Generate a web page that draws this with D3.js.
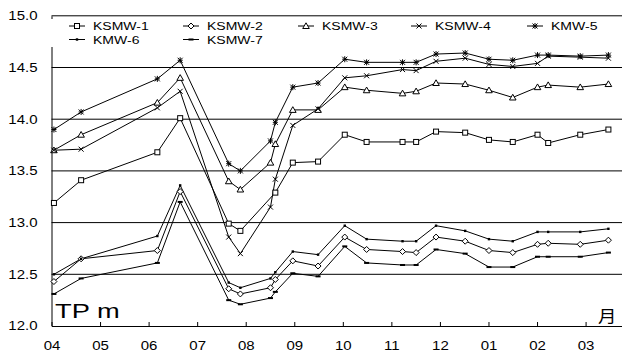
<!DOCTYPE html>
<html><head><meta charset="utf-8">
<script src="https://cdn.jsdelivr.net/npm/d3@7"></script>
<style>
html,body{margin:0;padding:0;background:#fff;}
svg{display:block;font-family:"Liberation Sans",Arial,sans-serif;}
</style></head>
<body>
<svg id="chart" width="622" height="358"></svg>
<script>
// ---- data ----
const monthLabels = ["04","05","06","07","08","09","10","11","12","01","02","03"];
const yTicks = [12.0, 12.5, 13.0, 13.5, 14.0, 14.5, 15.0];
// observation dates, in months after the "04" tick
const dates = [0.05,0.61,2.18,2.65,3.65,3.89,4.51,4.61,4.97,5.49,6.04,6.49,7.23,7.51,7.92,8.52,9.01,9.50,10.01,10.23,10.89,11.47];
const seriesNames = ["KSMW-1","KSMW-2","KSMW-3","KSMW-4","KMW-5","KMW-6","KSMW-7"];
const ksmw1 = [13.19,13.41,13.68,14.01,12.99,12.92,null,13.29,13.58,13.59,13.85,13.78,13.78,13.78,13.88,13.87,13.80,13.78,13.85,13.77,13.85,13.90];
const ksmw2 = [12.43,12.65,12.73,13.30,12.36,12.31,12.37,12.45,12.63,12.58,12.86,12.74,12.72,12.71,12.86,12.82,12.73,12.71,12.79,12.80,12.79,12.83];
const ksmw3 = [13.70,13.85,14.16,14.40,13.40,13.32,13.58,13.76,14.09,14.09,14.31,14.28,14.25,14.27,14.35,14.34,14.28,14.21,14.31,14.33,14.31,14.34];
const ksmw4 = [13.70,13.71,14.11,14.27,12.86,12.70,13.15,13.42,13.94,14.10,14.40,14.42,14.48,14.47,14.56,14.59,14.53,14.51,14.54,14.61,14.60,14.59];
const kmw5  = [13.90,14.07,14.39,14.57,13.57,13.50,13.79,13.97,14.31,14.35,14.58,14.55,14.55,14.55,14.63,14.64,14.58,14.57,14.62,14.62,14.61,14.62];
const kmw6  = [12.50,12.65,12.87,13.36,12.42,12.37,12.46,12.52,12.72,12.69,12.97,12.84,12.82,12.82,12.97,12.92,12.84,12.82,12.91,12.91,12.91,12.94];
const ksmw7 = [12.31,12.46,12.61,13.20,12.25,12.21,12.27,12.33,12.51,12.48,12.77,12.61,12.59,12.59,12.74,12.70,12.57,12.57,12.67,12.67,12.67,12.71];
const markerTypes = ["square","diamond","triangle","cross","star","dot","dash"];

const allValues = [ksmw1,ksmw2,ksmw3,ksmw4,kmw5,kmw6,ksmw7];
const series = seriesNames.map((name,i)=>({
  name, marker: markerTypes[i],
  points: dates.map((d,j)=>({d, v: allValues[i][j]})).filter(p=>p.v!=null)
}));

// ---- layout ----
const svg = d3.select("#chart");
const x = d3.scaleLinear().domain([0, 11.75]).range([51.5, 622]);
const y = d3.scaleLinear().domain([12, 15]).range([326, 15.8]);
const SX = 1.25; // horizontal stretch of the typeface

// gridlines
svg.append("g").selectAll("line").data(yTicks.filter(t=>t>12))
  .join("line")
  .attr("x1", x.range()[0]).attr("x2", x.range()[1])
  .attr("y1", d=>y(d)).attr("y2", d=>y(d))
  .attr("stroke", "#000").attr("stroke-width", 1);

// y axis
const yAxis = svg.append("g").attr("transform", `translate(${x.range()[0]},0)`)
  .call(d3.axisLeft(y).tickValues(yTicks).tickFormat(d3.format(".1f")).tickSize(0).tickPadding(0));
yAxis.select(".domain").attr("stroke","#000");
yAxis.selectAll("text")
  .attr("font-size", 12).attr("fill","#000")
  .attr("x", -14/SX)
  .attr("transform", `scale(${SX},1)`)
  .attr("font-family", "'Liberation Sans',Arial,sans-serif");

// x axis
const xAxis = svg.append("g").attr("transform", `translate(0,${y(12)})`)
  .call(d3.axisBottom(x).tickValues(d3.range(0,12)).tickFormat(i=>monthLabels[i])
        .tickSizeInner(-4).tickSizeOuter(0).tickPadding(15));
xAxis.select(".domain").attr("stroke","#000");
xAxis.selectAll(".tick line").attr("stroke","#000");
xAxis.selectAll("text")
  .attr("font-size", 12).attr("fill","#000")
  .attr("font-family", "'Liberation Sans',Arial,sans-serif")
  .attr("transform", `scale(${SX},1)`);

// markers
function drawMarker(g, type, cx, cy){
  const s = "#000";
  if(type==="square"){
    g.append("rect").attr("x",cx-2.5).attr("y",cy-2.5).attr("width",5).attr("height",5)
      .attr("fill","#fff").attr("stroke",s).attr("stroke-width",1);
  } else if(type==="diamond"){
    g.append("path").attr("d",`M${cx},${cy-3}L${cx+3},${cy}L${cx},${cy+3}L${cx-3},${cy}Z`)
      .attr("fill","#fff").attr("stroke",s).attr("stroke-width",1);
  } else if(type==="triangle"){
    g.append("path").attr("d",`M${cx},${cy-3.2}L${cx+3.3},${cy+2.5}L${cx-3.3},${cy+2.5}Z`)
      .attr("fill","#fff").attr("stroke",s).attr("stroke-width",1);
  } else if(type==="cross"){
    g.append("path").attr("d",`M${cx-2.5},${cy-2.5}L${cx+2.5},${cy+2.5}M${cx-2.5},${cy+2.5}L${cx+2.5},${cy-2.5}`)
      .attr("stroke",s).attr("stroke-width",1).attr("fill","none");
  } else if(type==="star"){
    g.append("path").attr("d",`M${cx-2.5},${cy-2.5}L${cx+2.5},${cy+2.5}M${cx-2.5},${cy+2.5}L${cx+2.5},${cy-2.5}M${cx},${cy-3}L${cx},${cy+3}M${cx-2.5},${cy}L${cx+2.5},${cy}`)
      .attr("stroke",s).attr("stroke-width",1).attr("fill","none");
  } else if(type==="dot"){
    g.append("rect").attr("x",cx-1.2).attr("y",cy-1.2).attr("width",2.4).attr("height",2.4).attr("fill",s);
  } else if(type==="dash"){
    g.append("rect").attr("x",cx-2.5).attr("y",cy-1).attr("width",5).attr("height",2).attr("fill",s);
  }
}

// lines + markers
const line = d3.line().x(p=>x(p.d)).y(p=>y(p.v));
const plot = svg.append("g");
series.forEach(sr=>{
  plot.append("path").datum(sr.points).attr("d", line)
    .attr("fill","none").attr("stroke","#000").attr("stroke-width",1);
});
series.forEach(sr=>{
  const g = plot.append("g");
  sr.points.forEach(p=>drawMarker(g, sr.marker, x(p.d), y(p.v)));
});

// legend
const leg = svg.append("g");
leg.append("rect").attr("x",50).attr("y",19).attr("width",560).attr("height",28).attr("fill","#fff");
const legCols = [69,183,298,411,527];
const legRows = [26,39.5];
series.forEach((sr,i)=>{
  const cx = legCols[i%5], cy = legRows[Math.floor(i/5)];
  const g = leg.append("g");
  g.append("line").attr("x1",cx).attr("x2",cx+16).attr("y1",cy).attr("y2",cy)
    .attr("stroke","#000").attr("stroke-width",1);
  drawMarker(g, sr.marker, cx+8, cy);
  g.append("text").attr("transform",`translate(${cx+24},${cy+4.2}) scale(1.22,1)`)
    .attr("font-size",11.5).attr("fill","#000").text(sr.name);
});

// labels
svg.append("text").attr("transform",`translate(55,318) scale(1.3,1)`)
  .attr("font-size",21).attr("fill","#000").text("TP m");
svg.append("text").attr("transform",`translate(598,322) scale(1.15,1)`)
  .attr("font-size",16).attr("fill","#000")
  .attr("font-family","'Noto Sans CJK SC','Noto Sans CJK JP',sans-serif").text("月");
</script>
</body></html>
